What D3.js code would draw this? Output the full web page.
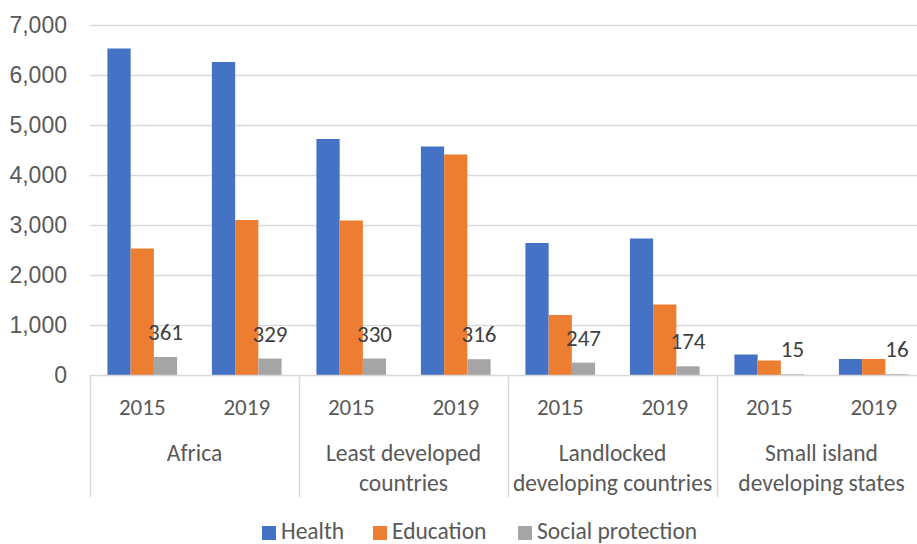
<!DOCTYPE html>
<html>
<head>
<meta charset="utf-8">
<script src="https://cdn.jsdelivr.net/npm/d3@7"></script>
<style>
  html, body { margin: 0; padding: 0; background: #fff; overflow: hidden; }
  svg { display: block; font-family: Carlito, Calibri, Lato, "Liberation Sans", sans-serif; }
</style>
</head>
<body>
<svg id="chart" width="917" height="544"></svg>
<script>
// Spending by country group and year (values in millions)
const groups = ["Africa", "Least developed countries", "Landlocked developing countries", "Small island developing states"];
const groupLines = [["Africa"], ["Least developed", "countries"], ["Landlocked", "developing countries"], ["Small island", "developing states"]];
const years = ["2015", "2019"];
const series = ["Health", "Education", "Social protection"];
const colors = ["#4472C4", "#ED7D31", "#A5A5A5"];

const health = [6530, 6260, 4720, 4570, 2640, 2730, 410, 320];
const education = [2530, 3100, 3090, 4410, 1200, 1410, 290, 320];
const socialProtection = [361, 329, 330, 316, 247, 174, 15, 16];

const yTicks = [0, 1000, 2000, 3000, 4000, 5000, 6000, 7000];

const values = [health, education, socialProtection];
const rows = [];
groups.forEach((g, gi) => years.forEach((yr, yi) => rows.push({ key: g + "|" + yr, group: g, year: yr, idx: gi * 2 + yi })));

const svg = d3.select("#chart");
const plot = { left: 90, right: 926, top: 25, bottom: 375 };

const y = d3.scaleLinear().domain([0, 7000]).range([plot.bottom, plot.top]);
const xGroup = d3.scaleBand().domain(groups).range([plot.left, plot.right]).paddingInner(0).paddingOuter(0);
const x = d3.scaleBand().domain(rows.map(r => r.key)).range([plot.left, plot.right]).paddingInner(0).paddingOuter(0);
const xSeries = d3.scaleBand().domain(series).range([0, x.bandwidth()]).paddingInner(0).paddingOuter(0.75);

const textColor = "#595959";
const gridColor = "#D9D9D9";
const numSize = 23;
const wordSize = 23.5;

// Horizontal gridlines
svg.append("g")
  .selectAll("line")
  .data(yTicks.filter(t => t > 0))
  .join("line")
  .attr("x1", plot.left).attr("x2", plot.right)
  .attr("y1", d => Math.round(y(d)) + 0.5).attr("y2", d => Math.round(y(d)) + 0.5)
  .attr("stroke", gridColor).attr("stroke-width", 1.5);

// Y axis labels
const yAxis = d3.axisLeft(y).tickValues(yTicks).tickFormat(d3.format(",")).tickSize(0).tickPadding(23);
const yg = svg.append("g").attr("transform", `translate(${plot.left},0)`).call(yAxis);
yg.select(".domain").remove();
yg.selectAll("text").attr("fill", textColor).style("font-size", numSize + "px").style("font-family", null);

// Bars
const barG = svg.append("g");
series.forEach((s, si) => {
  barG.selectAll(null)
    .data(rows)
    .join("rect")
    .attr("x", d => x(d.key) + xSeries(s))
    .attr("width", xSeries.bandwidth())
    .attr("y", d => y(values[si][d.idx]))
    .attr("height", d => y(0) - y(values[si][d.idx]))
    .attr("fill", colors[si]);
});

// Value labels on social protection bars
svg.append("g")
  .selectAll("text")
  .data(rows)
  .join("text")
  .attr("x", d => x(d.key) + xSeries("Social protection") + xSeries.bandwidth() / 2)
  .attr("y", d => y(socialProtection[d.idx]) - 17)
  .attr("text-anchor", "middle")
  .attr("fill", "#404040")
  .style("font-size", numSize + "px")
  .text(d => socialProtection[d.idx]);

// Category axis line
svg.append("line")
  .attr("x1", plot.left).attr("x2", plot.right)
  .attr("y1", plot.bottom + 0.5).attr("y2", plot.bottom + 0.5)
  .attr("stroke", gridColor).attr("stroke-width", 1.5);

// Group separators
svg.append("g")
  .selectAll("line")
  .data(groups.map(g => xGroup(g)).concat([plot.right]))
  .join("line")
  .attr("x1", d => Math.round(d) + 0.5).attr("x2", d => Math.round(d) + 0.5)
  .attr("y1", plot.bottom).attr("y2", 497)
  .attr("stroke", gridColor).attr("stroke-width", 1.5);

// Year labels
svg.append("g")
  .selectAll("text")
  .data(rows)
  .join("text")
  .attr("x", d => x(d.key) + x.bandwidth() / 2)
  .attr("y", 415)
  .attr("text-anchor", "middle")
  .attr("fill", textColor)
  .style("font-size", numSize + "px")
  .text(d => d.year);

// Group labels (wrapped)
const gl = svg.append("g")
  .selectAll("text")
  .data(groups)
  .join("text")
  .attr("text-anchor", "middle")
  .attr("fill", textColor)
  .style("font-size", wordSize + "px");
gl.each(function (g, i) {
  const lines = groupLines[i];
  d3.select(this).selectAll("tspan")
    .data(lines)
    .join("tspan")
    .attr("x", xGroup(g) + xGroup.bandwidth() / 2)
    .attr("y", (d, li) => 461 + li * 30)
    .text(d => d);
});

// Legend
const legendItems = [
  { name: series[0], color: colors[0], x: 262 },
  { name: series[1], color: colors[1], x: 373 },
  { name: series[2], color: colors[2], x: 518 }
];
const lg = svg.append("g");
legendItems.forEach(item => {
  lg.append("rect").attr("x", item.x).attr("y", 526).attr("width", 14).attr("height", 14).attr("fill", item.color);
  lg.append("text").attr("x", item.x + 19).attr("y", 539)
    .attr("fill", textColor).style("font-size", wordSize + "px").text(item.name);
});
</script>
</body>
</html>
